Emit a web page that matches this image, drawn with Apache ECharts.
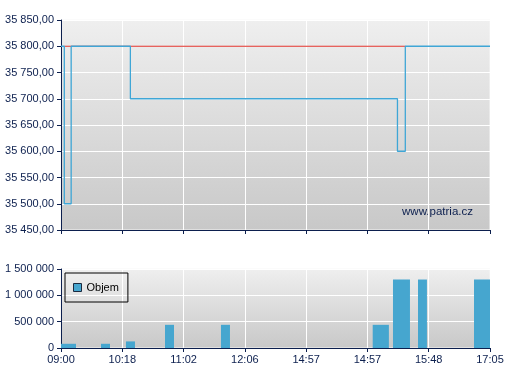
<!DOCTYPE html>
<html>
<head>
<meta charset="utf-8">
<script src="https://cdn.jsdelivr.net/npm/echarts@6/dist/echarts.min.js"></script>
<style>
html,body{margin:0;padding:0;background:#fff;}
#chart{width:507px;height:380px;}
</style>
</head>
<body>
<div id="chart"></div>
<script>
// x positions are in tick-slot units (0..7), one slot per time label
var timeLabels = ['09:00', '10:18', '11:02', '12:06', '14:57', '14:57', '15:48', '17:05'];
// price (step line)
var priceX = [0, 0.054, 0.166, 1.132, 5.49, 5.618, 7];
var priceY = [35800, 35500, 35800, 35700, 35600, 35800, 35800];
// reference (red) line
var refX = [0.054, 5.618];
var refY = [35800, 35800];
// volume bars: start, end, value
var volStart = [0, 0.653, 1.06, 1.697, 2.61, 5.086, 5.417, 5.825, 6.739];
var volEnd   = [0.245, 0.8, 1.207, 1.844, 2.757, 5.35, 5.694, 5.971, 7];
var volValue = [80000, 80000, 125000, 440000, 440000, 440000, 1300000, 1300000, 1300000];

var NAVY = '#0c1f4e';
var FONT = '"Liberation Sans", Arial, sans-serif';

function fmtThousands(n) {
  var s = Math.round(n).toString();
  return s.replace(/\B(?=(\d{3})+(?!\d))/g, ' ');
}
function fmtPrice(v) {
  var p = v.toFixed(2).split('.');
  return fmtThousands(+p[0]) + ',' + p[1];
}

var bg = {
  type: 'linear', x: 0, y: 0, x2: 0, y2: 1,
  colorStops: [{offset: 0, color: '#efefef'}, {offset: 1, color: '#c8c8c8'}]
};

var chart = echarts.init(document.getElementById('chart'), null, {renderer: 'canvas'});

var priceData = priceX.map(function (x, i) { return [x, priceY[i]]; });
var refData = refX.map(function (x, i) { return [x, refY[i]]; });
var volData = volStart.map(function (x, i) { return [x, volEnd[i], volValue[i]]; });

var option = {
  animation: false,
  backgroundColor: '#ffffff',
  textStyle: {fontFamily: FONT},
  grid: [
    {left: 61, right: 17, top: 20, height: 210, show: true, backgroundColor: bg, borderColor: '#f6f6f6', borderWidth: 1},
    {left: 61, right: 17, top: 269, height: 79, show: true, backgroundColor: bg, borderColor: '#f6f6f6', borderWidth: 1}
  ],
  xAxis: [
    {
      gridIndex: 0, type: 'value', min: 0, max: 7, interval: 1,
      axisLine: {show: true, onZero: false, lineStyle: {color: NAVY, width: 1}},
      axisTick: {show: true, length: 4, lineStyle: {color: NAVY}},
      axisLabel: {show: false},
      splitLine: {show: true, lineStyle: {color: '#ffffff', width: 1}}
    },
    {
      gridIndex: 1, type: 'value', min: 0, max: 7, interval: 1,
      axisLine: {show: true, onZero: false, lineStyle: {color: NAVY, width: 1}},
      axisTick: {show: true, length: 4, lineStyle: {color: NAVY}},
      axisLabel: {
        show: true, margin: 6, color: NAVY, fontSize: 11, fontFamily: FONT,
        showMinLabel: true, showMaxLabel: true,
        formatter: function (v) { return timeLabels[Math.round(v)]; }
      },
      splitLine: {show: true, lineStyle: {color: '#ffffff', width: 1}}
    }
  ],
  yAxis: [
    {
      gridIndex: 0, type: 'value', min: 35450, max: 35850, interval: 50,
      axisLine: {show: true, lineStyle: {color: NAVY, width: 1}},
      axisTick: {show: true, length: 4, lineStyle: {color: NAVY}},
      axisLabel: {margin: 7, color: NAVY, fontSize: 11, fontFamily: FONT, formatter: fmtPrice},
      splitLine: {show: true, lineStyle: {color: '#ffffff', width: 1}}
    },
    {
      gridIndex: 1, type: 'value', min: 0, max: 1500000, interval: 500000,
      axisLine: {show: true, lineStyle: {color: NAVY, width: 1}},
      axisTick: {show: true, length: 4, lineStyle: {color: NAVY}},
      axisLabel: {margin: 7, color: NAVY, fontSize: 11, fontFamily: FONT, formatter: fmtThousands},
      splitLine: {show: true, lineStyle: {color: '#ffffff', width: 1}}
    }
  ],
  legend: {
    data: [{name: 'Objem', icon: 'rect', itemStyle: {color: '#46a6cf', borderColor: '#1a2a40', borderWidth: 1}}],
    left: 65, top: 273,
    orient: 'vertical',
    itemWidth: 8, itemHeight: 8, itemGap: 5,
    padding: [9, 9, 9, 8],
    borderColor: '#000000', borderWidth: 1, borderRadius: 0,
    backgroundColor: 'transparent',
    shadowBlur: 0, shadowColor: 'transparent',
    textStyle: {color: '#000000', fontSize: 11, fontFamily: FONT},
    selectedMode: false
  },
  graphic: [{
    type: 'text', right: 34, top: 206,
    style: {text: 'www.patria.cz', fill: NAVY, font: '11.5px ' + FONT}
  }],
  series: [
    {
      name: 'Ref', type: 'line', xAxisIndex: 0, yAxisIndex: 0,
      data: refData, showSymbol: false, symbol: 'none',
      lineStyle: {color: '#e0302a', width: 1}, z: 2
    },
    {
      name: 'Cena', type: 'line', xAxisIndex: 0, yAxisIndex: 0,
      data: priceData, step: 'end', showSymbol: false, symbol: 'none',
      lineStyle: {color: '#3fa6d6', width: 1.3}, z: 3
    },
    {
      name: 'Objem', type: 'custom', xAxisIndex: 1, yAxisIndex: 1,
      data: volData,
      encode: {x: [0, 1], y: 2},
      itemStyle: {color: '#46a6cf'},
      renderItem: function (params, api) {
        var p0 = api.coord([api.value(0), api.value(2)]);
        var p1 = api.coord([api.value(1), 0]);
        return {
          type: 'rect',
          shape: {x: p0[0], y: p0[1], width: p1[0] - p0[0], height: p1[1] - p0[1]},
          style: {fill: '#46a6cf'}
        };
      },
      z: 2
    }
  ]
};
chart.setOption(option);
</script>
</body>
</html>
